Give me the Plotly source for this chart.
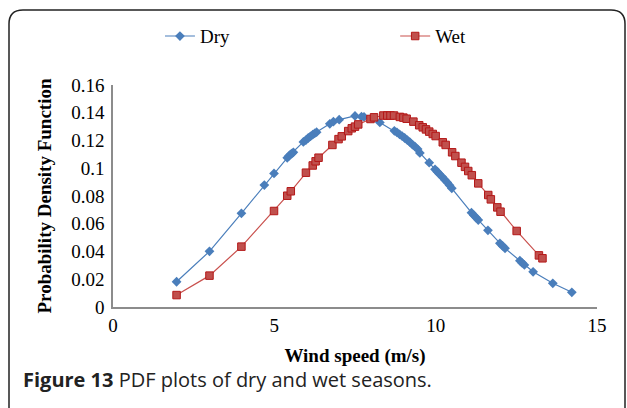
import plotly.graph_objects as go

# wind speed (m/s) and pdf values
dry_speed = [1.97, 2.99, 3.98, 4.69, 4.99, 5.40, 5.45, 5.50, 5.55, 5.59,
             5.90, 5.98, 6.05, 6.12, 6.19, 6.25, 6.31, 6.72, 6.83, 7.01,
             7.50, 7.70, 7.78, 8.27, 8.72, 8.80, 8.88, 8.96, 9.04, 9.12,
             9.20, 9.28, 9.36, 9.44, 9.51, 9.80, 9.98, 10.05, 10.12, 10.20,
             10.28, 10.36, 10.43, 10.50, 11.11, 11.18, 11.25, 11.32, 11.62, 11.99,
             12.07, 12.15, 12.61, 12.68, 12.75, 13.02, 13.63, 14.22]
dry_pdf = [0.0182, 0.0401, 0.0675, 0.0879, 0.0963, 0.1075, 0.1088, 0.1100, 0.1108, 0.1115,
           0.1190, 0.1203, 0.1218, 0.1230, 0.1242, 0.1252, 0.1260, 0.1320, 0.1336, 0.1350,
           0.1377, 0.1372, 0.1370, 0.1330, 0.1270, 0.1258, 0.1245, 0.1232, 0.1218, 0.1203,
           0.1188, 0.1171, 0.1155, 0.1138, 0.1110, 0.1040, 0.0992, 0.0975, 0.0957, 0.0938,
           0.0918, 0.0898, 0.0877, 0.0855, 0.0680, 0.0662, 0.0645, 0.0627, 0.0553, 0.0459,
           0.0441, 0.0423, 0.0334, 0.0318, 0.0303, 0.0254, 0.0171, 0.0106]

wet_speed = [1.97, 2.99, 3.98, 4.99, 5.40, 5.51, 5.98, 6.19, 6.28, 6.37,
             6.80, 6.99, 7.09, 7.29, 7.40, 7.50, 7.60, 7.98, 8.09, 8.38,
             8.50, 8.60, 8.71, 8.89, 9.00, 9.10, 9.31, 9.49, 9.60, 9.70,
             9.80, 9.91, 10.00, 10.22, 10.31, 10.51, 10.61, 10.80, 10.91, 11.01,
             11.12, 11.32, 11.63, 11.71, 11.91, 12.01, 12.51, 13.20, 13.31]
wet_pdf = [0.0086, 0.0226, 0.0435, 0.0692, 0.0802, 0.0834, 0.0968, 0.1020, 0.1050, 0.1076,
           0.1168, 0.1210, 0.1230, 0.1268, 0.1288, 0.1300, 0.1316, 0.1355, 0.1367, 0.1380,
           0.1380, 0.1380, 0.1380, 0.1370, 0.1365, 0.1357, 0.1336, 0.1310, 0.1295, 0.1280,
           0.1264, 0.1247, 0.1232, 0.1187, 0.1168, 0.1115, 0.1088, 0.1040, 0.1010, 0.0980,
           0.0950, 0.0891, 0.0807, 0.0776, 0.0718, 0.0687, 0.0548, 0.0372, 0.0351]

serif = "Liberation Serif"
W, H = 627, 408
L, R, T, B = 113, 30, 85, 101


# pixel -> paper coords, used only for the decorative frame and caption
def px(x):
    return (x - L) / (W - L - R)


def py(y):
    return (H - B - y) / (H - T - B)


rad = 14
left, right, top, bottom = 9, 625, 10, 430
frame = (f"M {px(left)},{py(bottom)} L {px(left)},{py(top + rad)} "
         f"Q {px(left)},{py(top)} {px(left + rad)},{py(top)} "
         f"L {px(right - rad)},{py(top)} Q {px(right)},{py(top)} {px(right)},{py(top + rad)} "
         f"L {px(right)},{py(bottom)}")

fig = go.Figure()
fig.add_trace(go.Scatter(
    x=dry_speed, y=dry_pdf, mode="lines+markers", name="Dry", legend="legend",
    line=dict(color="#4a7ebb", width=1.2),
    marker=dict(symbol="diamond", size=7.5, color="#4a7ebb"),
))
fig.add_trace(go.Scatter(
    x=wet_speed, y=wet_pdf, mode="lines+markers", name="Wet", legend="legend2",
    line=dict(color="#c9504d", width=1.2),
    marker=dict(symbol="square", size=7.5, color="#c0504d",
                line=dict(color="#b41818", width=1)),
))

legend_style = dict(y=1.22, xanchor="left", yanchor="middle", orientation="h",
                    font=dict(family=serif, size=19), bgcolor="rgba(0,0,0,0)")

fig.update_layout(
    width=W, height=H,
    margin=dict(l=L, r=R, t=T, b=B),
    plot_bgcolor="white", paper_bgcolor="white",
    font=dict(family=serif, size=19, color="black"),
    showlegend=True,
    legend=dict(x=0.097, **legend_style),
    legend2=dict(x=0.583, **legend_style),
    xaxis=dict(range=[0, 15], dtick=5, showgrid=False, zeroline=False,
               showline=True, linecolor="#8c8c8c", linewidth=1.5, ticks="",
               automargin=False, tickfont=dict(family=serif, size=19),
               title=dict(text="<b>Wind speed (m/s)</b>", standoff=14,
                          font=dict(family=serif, size=19))),
    yaxis=dict(range=[0, 0.16], dtick=0.02, showgrid=False, zeroline=False,
               showline=True, linecolor="#8c8c8c", linewidth=1.5, ticks="",
               automargin=False, tickformat="~g", ticklabelstandoff=3,
               tickfont=dict(family=serif, size=19),
               title=dict(text="<b>Probability Density Function</b>", standoff=15,
                          font=dict(family=serif, size=19))),
    shapes=[dict(type="path", path=frame, xref="paper", yref="paper",
                 line=dict(color="#222222", width=1.5))],
    annotations=[dict(text="<b>Figure 13</b> PDF plots of dry and wet seasons.",
                      xref="paper", yref="paper", x=px(21), y=py(379),
                      xanchor="left", yanchor="middle", showarrow=False,
                      font=dict(family="Open Sans", size=20, color="#222222"))],
)

# drop the browser's default page margin so the figure sits at the top-left corner
fig.write_html("out.html", config={"displayModeBar": False},
               post_script="document.body.style.margin='0px';")
